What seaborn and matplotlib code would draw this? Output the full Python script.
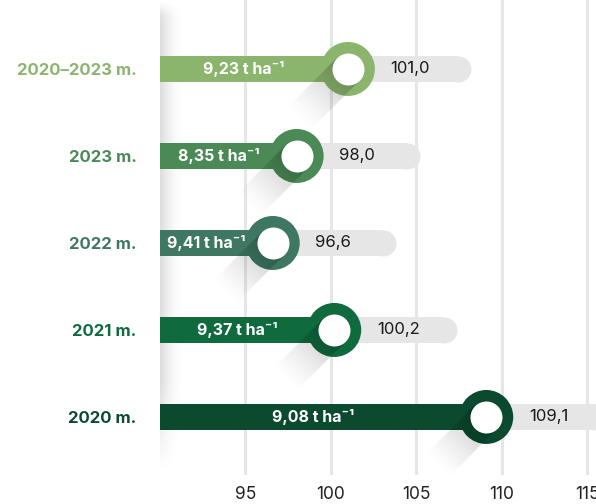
import numpy as np
import pandas as pd
import matplotlib
matplotlib.use("Agg")
import matplotlib.pyplot as plt
import seaborn as sns

# chart data
periods = ['2020–2023 m.', '2023 m.', '2022 m.', '2021 m.', '2020 m.']
index_values = [101.0, 98.0, 96.6, 100.2, 109.1]
yields = ['9,23', '8,35', '9,41', '9,37', '9,08']
bar_colors = ['#8bb46d', '#4b8a56', '#3e7862', '#0f6a3d', '#0b4a2f']
x_ticks = [95, 100, 105, 110, 115]

sns.set_style('white')
plt.rcParams['font.family'] = ['Inter', 'DejaVu Sans']

W, H, DPI = 5.96, 5.04, 100
fig = plt.figure(figsize=(W, H), dpi=DPI)
ax = fig.add_axes([160 / 596, 29 / 504, 436 / 596, 475 / 504])

# pixel scale of the axes
XMIN, XMAX = 90, 90 + 436 / 17.08
YTOP, YBOT = -0.793, 4.667
px_x = 436 / (XMAX - XMIN)
px_y = 475 / (YBOT - YTOP)

df = pd.DataFrame({'period': periods, 'value': index_values, 'color': bar_colors})
cap_r = 13  # px, rounded end of the grey bar
df['grey_end'] = df['value'] + 7.2 - cap_r / px_x

# grey background bars with rounded right end
sns.barplot(data=df, x='grey_end', y='period', color='#e6e6e6', width=0.30,
            orient='h', ax=ax, zorder=1, linewidth=0, saturation=1)
sns.scatterplot(data=df, x='grey_end', y='period', color='#e6e6e6', s=(2 * cap_r * 0.72) ** 2,
                linewidth=0, ax=ax, zorder=1)

# coloured bars
sns.barplot(data=df, x='value', y='period', hue='period', palette=bar_colors, width=0.30,
            orient='h', ax=ax, zorder=2, linewidth=0, saturation=1, legend=False)

# ring circles
sns.scatterplot(data=df, x='value', y='period', hue='period', palette=bar_colors,
                s=(54 * 0.72) ** 2, linewidth=0, ax=ax, zorder=3, legend=False)

# long shadows from the inner circle
r_in = 16
L = 72
for i, v in enumerate(index_values):
    umin, umax = -L / np.sqrt(2) - r_in, r_in
    vmin, vmax = -r_in, L / np.sqrt(2) + r_in
    uu, vv = np.meshgrid(np.arange(umin, umax, 0.5), np.arange(vmin, vmax, 0.5))
    t = (-uu + vv) / np.sqrt(2)
    s = (uu + vv) / np.sqrt(2)
    inside = (np.abs(s) <= r_in) & (t >= 0) & (t <= L)
    alpha = np.where(inside, 0.24 * np.clip(1 - t / L, 0, 1) ** 1.4, 0)
    img = np.zeros(uu.shape + (4,))
    img[..., 3] = alpha
    ax.imshow(img, extent=(v + umin / px_x, v + umax / px_x, i + vmax / px_y, i + vmin / px_y),
              origin='upper', aspect='auto', zorder=4, interpolation='bilinear')

# inner white circles
sns.scatterplot(data=df, x='value', y='period', color='white', s=(32 * 0.72) ** 2,
                linewidth=0, ax=ax, zorder=5)

# left edge shadow
gx = np.linspace(1, 0, 60) ** 2
gy = np.ones(200)
gy[:8] = np.linspace(0, 1, 8)
gy[-40:] = np.linspace(1, 0, 40)
edge = np.zeros((200, 60, 4))
edge[..., 3] = 0.14 * np.outer(gy, gx)
ax.imshow(edge, extent=(XMIN, XMIN + 26 / px_x, YBOT, YTOP), origin='upper',
          aspect='auto', zorder=0.5)

# labels inside and next to the bars
for i, (v, y_txt) in enumerate(zip(index_values, yields)):
    ax.text((XMIN + v) / 2 - 10 / px_x, i, f'{y_txt} t ha⁻¹', color='white',
            fontsize=11.5, fontweight='bold', ha='center', va='center', zorder=6)
    ax.text(v + 2.5, i, f'{v:.1f}'.replace('.', ','), color='#1a1a1a',
            fontsize=12, ha='left', va='center', zorder=6)

ax.set_xlim(XMIN, XMAX)
ax.set_ylim(YBOT, YTOP)
ax.set_xticks(x_ticks)
ax.set_xticklabels([str(t) for t in x_ticks], fontsize=12.5, color='#222222')
ax.xaxis.grid(True, color='#e6e6e6', linewidth=2.2, zorder=0)
ax.set_axisbelow(True)
ax.set_xlabel('')
ax.set_ylabel('')
ax.tick_params(axis='x', length=0, pad=8)
ax.tick_params(axis='y', length=0, pad=17)
for lbl, c in zip(ax.get_yticklabels(), bar_colors):
    lbl.set_color(c)
    lbl.set_fontweight('bold')
    lbl.set_fontsize(12)
for sp in ax.spines.values():
    sp.set_visible(False)

fig.savefig('out.png', dpi=DPI)
